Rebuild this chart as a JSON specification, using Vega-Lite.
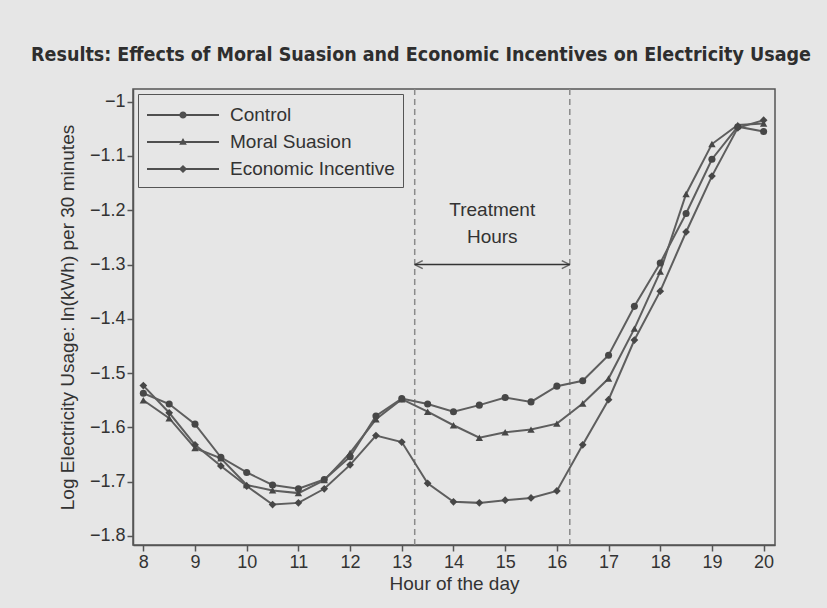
{
  "$schema": "https://vega.github.io/schema/vega-lite/v6.json",
  "width": 642,
  "height": 456,
  "autosize": {"type": "none"},
  "padding": {"left": 133, "top": 89, "right": 52, "bottom": 63},
  "background": "#e6e6e6",
  "title": {
    "text": "Results: Effects of Moral Suasion and Economic Incentives on Electricity Usage",
    "font": "DejaVu Sans Condensed, Liberation Sans Narrow, sans-serif",
    "fontWeight": "bold",
    "fontSize": 19.5,
    "color": "#2e2e2e",
    "anchor": "middle",
    "frame": "group",
    "baseline": "alphabetic",
    "offset": 8,
    "dx": -33
  },
  "config": {
    "font": "Liberation Sans, Arial, sans-serif",
    "view": {"stroke": "#555555", "strokeWidth": 1.5, "fill": "#e6e6e6"},
    "axis": {
      "grid": false,
      "domainColor": "#555555",
      "domainWidth": 1.5,
      "tickColor": "#555555",
      "tickWidth": 1.5,
      "tickSize": 6,
      "labelFontSize": 18,
      "labelColor": "#333333",
      "labelPadding": 2,
      "titleFontSize": 19,
      "titleFontWeight": "normal",
      "titleColor": "#333333"
    }
  },
  "datasets": {
    "usage": [
      {"group": "Control", "hour": 8, "usage": -1.537},
      {"group": "Control", "hour": 8.5, "usage": -1.557},
      {"group": "Control", "hour": 9, "usage": -1.594},
      {"group": "Control", "hour": 9.5, "usage": -1.655},
      {"group": "Control", "hour": 10, "usage": -1.683},
      {"group": "Control", "hour": 10.5, "usage": -1.706},
      {"group": "Control", "hour": 11, "usage": -1.713},
      {"group": "Control", "hour": 11.5, "usage": -1.696},
      {"group": "Control", "hour": 12, "usage": -1.654},
      {"group": "Control", "hour": 12.5, "usage": -1.579},
      {"group": "Control", "hour": 13, "usage": -1.547},
      {"group": "Control", "hour": 13.5, "usage": -1.557},
      {"group": "Control", "hour": 14, "usage": -1.571},
      {"group": "Control", "hour": 14.5, "usage": -1.559},
      {"group": "Control", "hour": 15, "usage": -1.545},
      {"group": "Control", "hour": 15.5, "usage": -1.553},
      {"group": "Control", "hour": 16, "usage": -1.524},
      {"group": "Control", "hour": 16.5, "usage": -1.514},
      {"group": "Control", "hour": 17, "usage": -1.467},
      {"group": "Control", "hour": 17.5, "usage": -1.377},
      {"group": "Control", "hour": 18, "usage": -1.297},
      {"group": "Control", "hour": 18.5, "usage": -1.206},
      {"group": "Control", "hour": 19, "usage": -1.106},
      {"group": "Control", "hour": 19.5, "usage": -1.046},
      {"group": "Control", "hour": 20, "usage": -1.055},
      {"group": "Moral Suasion", "hour": 8, "usage": -1.550},
      {"group": "Moral Suasion", "hour": 8.5, "usage": -1.583},
      {"group": "Moral Suasion", "hour": 9, "usage": -1.638},
      {"group": "Moral Suasion", "hour": 9.5, "usage": -1.657},
      {"group": "Moral Suasion", "hour": 10, "usage": -1.706},
      {"group": "Moral Suasion", "hour": 10.5, "usage": -1.716},
      {"group": "Moral Suasion", "hour": 11, "usage": -1.721},
      {"group": "Moral Suasion", "hour": 11.5, "usage": -1.697},
      {"group": "Moral Suasion", "hour": 12, "usage": -1.647},
      {"group": "Moral Suasion", "hour": 12.5, "usage": -1.585},
      {"group": "Moral Suasion", "hour": 13, "usage": -1.548},
      {"group": "Moral Suasion", "hour": 13.5, "usage": -1.571},
      {"group": "Moral Suasion", "hour": 14, "usage": -1.596},
      {"group": "Moral Suasion", "hour": 14.5, "usage": -1.619},
      {"group": "Moral Suasion", "hour": 15, "usage": -1.609},
      {"group": "Moral Suasion", "hour": 15.5, "usage": -1.604},
      {"group": "Moral Suasion", "hour": 16, "usage": -1.593},
      {"group": "Moral Suasion", "hour": 16.5, "usage": -1.556},
      {"group": "Moral Suasion", "hour": 17, "usage": -1.510},
      {"group": "Moral Suasion", "hour": 17.5, "usage": -1.418},
      {"group": "Moral Suasion", "hour": 18, "usage": -1.313},
      {"group": "Moral Suasion", "hour": 18.5, "usage": -1.170},
      {"group": "Moral Suasion", "hour": 19, "usage": -1.078},
      {"group": "Moral Suasion", "hour": 19.5, "usage": -1.043},
      {"group": "Moral Suasion", "hour": 20, "usage": -1.040},
      {"group": "Economic Incentive", "hour": 8, "usage": -1.523},
      {"group": "Economic Incentive", "hour": 8.5, "usage": -1.573},
      {"group": "Economic Incentive", "hour": 9, "usage": -1.632},
      {"group": "Economic Incentive", "hour": 9.5, "usage": -1.671},
      {"group": "Economic Incentive", "hour": 10, "usage": -1.708},
      {"group": "Economic Incentive", "hour": 10.5, "usage": -1.742},
      {"group": "Economic Incentive", "hour": 11, "usage": -1.739},
      {"group": "Economic Incentive", "hour": 11.5, "usage": -1.713},
      {"group": "Economic Incentive", "hour": 12, "usage": -1.669},
      {"group": "Economic Incentive", "hour": 12.5, "usage": -1.615},
      {"group": "Economic Incentive", "hour": 13, "usage": -1.627},
      {"group": "Economic Incentive", "hour": 13.5, "usage": -1.703},
      {"group": "Economic Incentive", "hour": 14, "usage": -1.737},
      {"group": "Economic Incentive", "hour": 14.5, "usage": -1.739},
      {"group": "Economic Incentive", "hour": 15, "usage": -1.734},
      {"group": "Economic Incentive", "hour": 15.5, "usage": -1.730},
      {"group": "Economic Incentive", "hour": 16, "usage": -1.717},
      {"group": "Economic Incentive", "hour": 16.5, "usage": -1.632},
      {"group": "Economic Incentive", "hour": 17, "usage": -1.549},
      {"group": "Economic Incentive", "hour": 17.5, "usage": -1.439},
      {"group": "Economic Incentive", "hour": 18, "usage": -1.349},
      {"group": "Economic Incentive", "hour": 18.5, "usage": -1.240},
      {"group": "Economic Incentive", "hour": 19, "usage": -1.137},
      {"group": "Economic Incentive", "hour": 19.5, "usage": -1.048},
      {"group": "Economic Incentive", "hour": 20, "usage": -1.034}
    ],
    "treatmentBounds": [{"hour": 13.25}, {"hour": 16.25}],
    "treatmentSpan": [{"hour": 13.25, "hour_end": 16.25, "usage": -1.3}],
    "treatmentLabel": [
      {"hour": 14.75, "usage": -1.2, "label": "Treatment"},
      {"hour": 14.75, "usage": -1.25, "label": "Hours"}
    ]
  },
  "layer": [
    {
      "data": {"name": "treatmentBounds"},
      "mark": {"type": "rule", "color": "#8a8a8a", "strokeWidth": 1.5, "strokeDash": [6, 4]},
      "encoding": {
        "x": {"field": "hour", "type": "quantitative", "scale": {"domain": [7.8, 20.22], "nice": false, "zero": false}, "axis": {"values": [8, 9, 10, 11, 12, 13, 14, 15, 16, 17, 18, 19, 20], "title": "Hour of the day", "titlePadding": 3}}
      }
    },
    {
      "data": {"name": "treatmentSpan"},
      "mark": {"type": "rule", "color": "#333333", "strokeWidth": 1.5},
      "encoding": {
        "x": {"field": "hour", "type": "quantitative", "title": "Hour of the day"},
        "x2": {"field": "hour_end"},
        "y": {"field": "usage", "type": "quantitative", "title": "Log Electricity Usage: ln(kWh) per 30 minutes"}
      }
    },
    {
      "data": {"name": "treatmentSpan"},
      "mark": {"type": "point", "shape": "M0,0L1.6,-0.8M0,0L1.6,0.8", "size": 100, "filled": false, "stroke": "#333333", "strokeWidth": 1.5},
      "encoding": {
        "x": {"field": "hour", "type": "quantitative", "title": "Hour of the day"},
        "y": {"field": "usage", "type": "quantitative", "title": "Log Electricity Usage: ln(kWh) per 30 minutes"}
      }
    },
    {
      "data": {"name": "treatmentSpan"},
      "mark": {"type": "point", "shape": "M0,0L-1.6,-0.8M0,0L-1.6,0.8", "size": 100, "filled": false, "stroke": "#333333", "strokeWidth": 1.5},
      "encoding": {
        "x": {"field": "hour_end", "type": "quantitative", "title": "Hour of the day"},
        "y": {"field": "usage", "type": "quantitative", "title": "Log Electricity Usage: ln(kWh) per 30 minutes"}
      }
    },
    {
      "data": {"name": "treatmentLabel"},
      "mark": {"type": "text", "fontSize": 19, "color": "#333333", "baseline": "middle", "align": "center"},
      "encoding": {
        "x": {"field": "hour", "type": "quantitative", "title": "Hour of the day"},
        "y": {"field": "usage", "type": "quantitative", "title": "Log Electricity Usage: ln(kWh) per 30 minutes"},
        "text": {"field": "label"}
      }
    },
    {
      "data": {"name": "usage"},
      "mark": {"type": "line", "color": "#5e5e5e", "strokeWidth": 2},
      "encoding": {
        "x": {"field": "hour", "type": "quantitative", "title": "Hour of the day"},
        "y": {"field": "usage", "type": "quantitative", "title": "Log Electricity Usage: ln(kWh) per 30 minutes", "scale": {"domain": [-1.8166, -0.9766], "nice": false, "zero": false}, "axis": {"values": [-1.8, -1.7, -1.6, -1.5, -1.4, -1.3, -1.2, -1.1, -1], "format": ".1~f", "titlePadding": 12}},
        "detail": {"field": "group"}
      }
    },
    {
      "data": {"name": "usage"},
      "mark": {"type": "point", "filled": true, "color": "#474747", "opacity": 1},
      "encoding": {
        "x": {"field": "hour", "type": "quantitative", "title": "Hour of the day"},
        "y": {"field": "usage", "type": "quantitative", "title": "Log Electricity Usage: ln(kWh) per 30 minutes"},
        "shape": {"field": "group", "type": "nominal", "scale": {"domain": ["Control", "Moral Suasion", "Economic Incentive"], "range": ["circle", "triangle-up", "diamond"]}, "legend": null},
        "size": {"field": "group", "type": "nominal", "scale": {"domain": ["Control", "Moral Suasion", "Economic Incentive"], "range": [50, 60, 65]}, "legend": null}
      }
    },
    {
      "data": {"name": "usage"},
      "mark": {"type": "point", "filled": true, "fill": "#4f4f4f", "opacity": 0},
      "encoding": {
        "x": {"field": "hour", "type": "quantitative", "title": "Hour of the day"},
        "y": {"field": "usage", "type": "quantitative", "title": "Log Electricity Usage: ln(kWh) per 30 minutes"},
        "shape": {
          "field": "group",
          "type": "nominal",
          "scale": {
            "domain": ["Control", "Moral Suasion", "Economic Incentive"],
            "range": [
              "M-3,-0.075H3V0.075H-3ZM-0.3,0A0.3,0.3,0,1,1,0.3,0A0.3,0.3,0,1,1,-0.3,0Z",
              "M-3,-0.075H3V0.075H-3ZM0,-0.34L0.32,0.22L-0.32,0.22Z",
              "M-3,-0.075H3V0.075H-3ZM0,-0.34L0.34,0L0,0.34L-0.34,0Z"
            ]
          },
          "legend": {
            "title": null,
            "orient": "top-left",
            "offset": 5,
            "padding": 8,
            "strokeColor": "#555555",
            "symbolSize": 576,
            "symbolOffset": 24,
            "symbolFillColor": "#4f4f4f",
            "labelOffset": 34,
            "labelFontSize": 19,
            "labelLimit": 300,
            "labelColor": "#333333",
            "rowPadding": 4,
            "encode": {
              "symbols": {
                "update": {
                  "opacity": {"value": 1},
                  "fill": {"value": "#4f4f4f"},
                  "size": {"value": 576}
                }
              },
              "legend": {
                "update": {"strokeWidth": {"value": 1.5}}
              }
            }
          }
        }
      }
    }
  ],
  "resolve": {"scale": {"shape": "independent", "size": "independent"}, "legend": {"shape": "independent"}}
}
